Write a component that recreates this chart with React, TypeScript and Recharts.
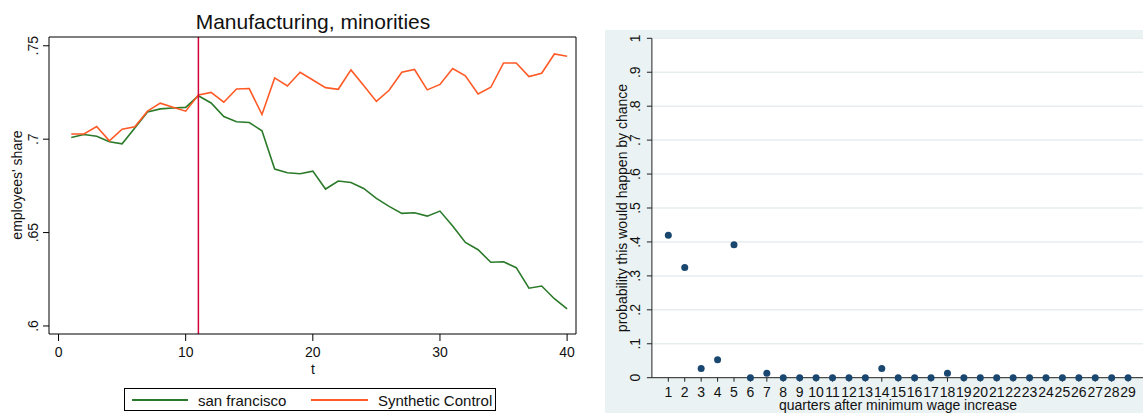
import { LineChart, Line, XAxis, YAxis, ReferenceLine, ScatterChart, Scatter, CartesianGrid } from 'recharts'

const FONT = '"Liberation Sans", Arial, sans-serif'

// left panel: employees' share, san francisco vs synthetic control
const quarters = [1, 2, 3, 4, 5, 6, 7, 8, 9, 10, 11, 12, 13, 14, 15, 16, 17, 18, 19, 20, 21, 22, 23, 24, 25, 26, 27, 28, 29, 30, 31, 32, 33, 34, 35, 36, 37, 38, 39, 40]
const sanFrancisco = [0.7009, 0.7025, 0.7016, 0.6986, 0.6975, 0.706, 0.7146, 0.7162, 0.7167, 0.717, 0.7232, 0.7194, 0.7121, 0.7093, 0.7089, 0.7045, 0.684, 0.682, 0.6815, 0.6829, 0.6733, 0.6776, 0.6768, 0.6736, 0.6683, 0.664, 0.6603, 0.6606, 0.6588, 0.6615, 0.6535, 0.6447, 0.6408, 0.6341, 0.6344, 0.6312, 0.6202, 0.6214, 0.6146, 0.6091]
const syntheticControl = [0.7028, 0.7028, 0.7068, 0.6991, 0.7053, 0.7066, 0.715, 0.7193, 0.7171, 0.715, 0.7237, 0.725, 0.7198, 0.7269, 0.7271, 0.7132, 0.7328, 0.7285, 0.7358, 0.7317, 0.7276, 0.7267, 0.7371, 0.7287, 0.7202, 0.7262, 0.7358, 0.7373, 0.7264, 0.7293, 0.7378, 0.7339, 0.7242, 0.7278, 0.7408, 0.7408, 0.7335, 0.7353, 0.7456, 0.7444]
const treatmentQuarter = 11
const tTicks = [0, 10, 20, 30, 40]
const shareTicks = [0.6, 0.65, 0.7, 0.75]

// right panel: placebo p-values by quarter
const placeboQuarters = [1, 2, 3, 4, 5, 6, 7, 8, 9, 10, 11, 12, 13, 14, 15, 16, 17, 18, 19, 20, 21, 22, 23, 24, 25, 26, 27, 28, 29]
const placeboPValues = [0.42, 0.325, 0.027, 0.053, 0.392, 0, 0.013, 0, 0, 0, 0, 0, 0, 0.027, 0, 0, 0, 0.013, 0, 0, 0, 0, 0, 0, 0, 0, 0, 0, 0]
const probTicks = [0, 0.1, 0.2, 0.3, 0.4, 0.5, 0.6, 0.7, 0.8, 0.9, 1]

const seriesData = quarters.map((t, i) => ({ t, sf: sanFrancisco[i], synth: syntheticControl[i] }))
const placeboData = placeboQuarters.map((q, i) => ({ q, p: placeboPValues[i] }))

const fmtStata = (v: number) => (v === 0 ? '0' : v === 1 ? '1' : String(v).replace(/^0/, ''))

const RotatedTick = (props: any) => {
  const { x, y, payload, dx = 0 } = props
  const px = x + dx
  return (
    <text x={px} y={y} transform={`rotate(-90 ${px} ${y})`} textAnchor="middle" fontSize={14} fill="#111" fontFamily={FONT}>
      {fmtStata(payload.value)}
    </text>
  )
}

const Dot = (props: any) => <circle cx={props.cx} cy={props.cy} r={3.5} fill="#1a476f" />

const txt = { position: 'absolute' as const, fontFamily: FONT, color: '#111', whiteSpace: 'nowrap' as const, lineHeight: 1 }

export default function App() {
  return (
    <div style={{ position: 'relative', width: 1143, height: 413, overflow: 'hidden', background: '#fff' }}>
      <style>{'body{margin:0}'}</style>

      {/* left panel */}
      <div style={{ ...txt, left: 0, width: 626, top: 11, fontSize: 21, textAlign: 'center' }}>Manufacturing, minorities</div>
      <div style={{ ...txt, left: 17, top: 185, fontSize: 14, transform: 'translate(-50%, -50%) rotate(-90deg)' }}>employees' share</div>
      <div style={{ ...txt, left: 313, top: 362, fontSize: 14, transform: 'translateX(-50%)' }}>t</div>
      <div style={{ position: 'absolute', left: 0, top: 0 }}>
        <LineChart width={600} height={413} data={seriesData} margin={{ top: 36, right: 23, bottom: 49, left: 19 }}>
          <XAxis dataKey="t" type="number" domain={[-0.75, 40.7]} ticks={tTicks} allowDataOverflow height={30}
            tickSize={7} tickMargin={6} stroke="#000" tick={{ fontSize: 14, fill: '#111', fontFamily: FONT }} />
          <XAxis xAxisId="top" orientation="top" type="number" domain={[0, 1]} tick={false} tickLine={false} height={1} stroke="#000" />
          <YAxis type="number" domain={[0.5957, 0.7547]} ticks={shareTicks} allowDataOverflow width={30}
            tickSize={6} stroke="#000" tick={<RotatedTick dx={-3} />} />
          <YAxis yAxisId="right" orientation="right" type="number" domain={[0, 1]} tick={false} tickLine={false} width={1} stroke="#000" />
          <Line dataKey="sf" stroke="#2a7a2a" strokeWidth={1.6} dot={false} isAnimationActive={false} />
          <Line dataKey="synth" stroke="#ff5a26" strokeWidth={1.6} dot={false} isAnimationActive={false} />
          <ReferenceLine x={treatmentQuarter} stroke="#d4003a" strokeWidth={1.5} />
        </LineChart>
      </div>
      <div style={{ position: 'absolute', left: 124, top: 388, width: 372, height: 23, border: '1px solid #000', boxSizing: 'border-box' }}>
        <div style={{ position: 'absolute', left: 7, top: 10, width: 56, height: 0, borderTop: '2px solid #2a7a2a' }} />
        <div style={{ ...txt, left: 73, top: 4, fontSize: 15 }}>san francisco</div>
        <div style={{ position: 'absolute', left: 186, top: 10, width: 57, height: 0, borderTop: '2px solid #ff5a26' }} />
        <div style={{ ...txt, left: 253, top: 4, fontSize: 15 }}>Synthetic Control</div>
      </div>

      {/* right panel */}
      <div style={{ position: 'absolute', left: 605, top: 30, width: 538, height: 383, background: '#eaf2f3' }} />
      <div style={{ ...txt, left: 622, top: 208, fontSize: 14, transform: 'translate(-50%, -50%) rotate(-90deg)' }}>probability this would happen by chance</div>
      <div style={{ ...txt, left: 898, top: 398, fontSize: 14, transform: 'translateX(-50%)' }}>quarters after minimum wage increase</div>
      <div style={{ position: 'absolute', left: 600, top: 0 }}>
        <ScatterChart width={548} height={413} margin={{ top: 38.3, right: 3.5, bottom: 5.3, left: 11.9 }}>
          <CartesianGrid vertical={false} fill="#fff" stroke="#e6eef0" strokeWidth={1.5} />
          <XAxis dataKey="q" type="number" domain={[0, 30]} ticks={placeboQuarters} interval={0} height={30}
            tickSize={4} tickMargin={5} stroke="#222" tick={{ fontSize: 14, fill: '#111', fontFamily: FONT }} />
          <YAxis dataKey="p" type="number" domain={[0, 1]} ticks={probTicks} width={40}
            tickSize={5} stroke="#222" tick={<RotatedTick dx={-5} />} />
          <Scatter data={placeboData} shape={<Dot />} isAnimationActive={false} />
        </ScatterChart>
      </div>
    </div>
  )
}
